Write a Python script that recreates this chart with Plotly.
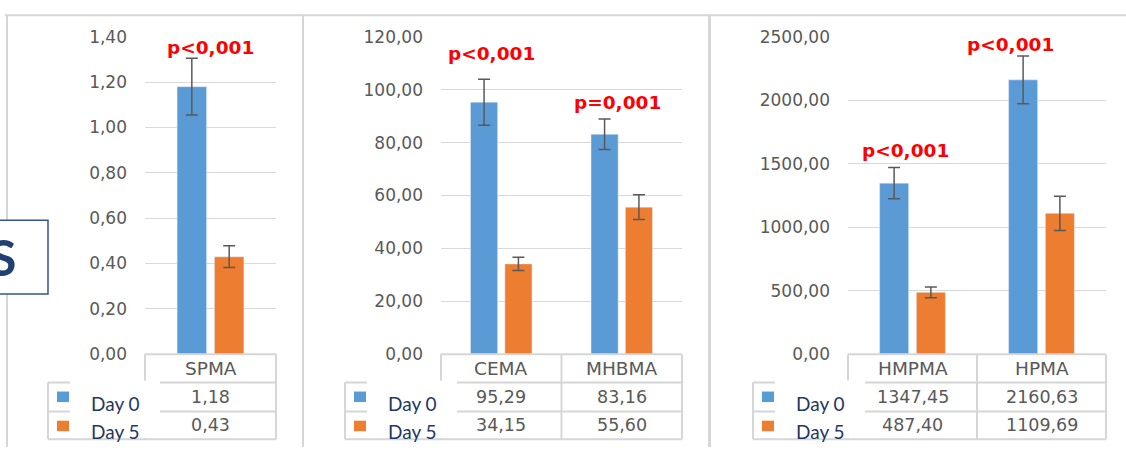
import plotly.graph_objects as go

W, H = 1126, 457

# ---------------- data ----------------
series_names = ["Day 0", "Day 5"]

spma_categories = ["SPMA"]
spma_day0 = [1.18]
spma_day5 = [0.43]
spma_day0_err = [0.125]
spma_day5_err = [0.048]
spma_pvalues = ["p<0,001"]
spma_tickvals = [0.0, 0.2, 0.4, 0.6, 0.8, 1.0, 1.2, 1.4]
spma_ticktext = ["0,00", "0,20", "0,40", "0,60", "0,80", "1,00", "1,20", "1,40"]

mid_categories = ["CEMA", "MHBMA"]
mid_day0 = [95.29, 83.16]
mid_day5 = [34.15, 55.60]
mid_day0_err = [8.7, 5.8]
mid_day5_err = [2.5, 4.7]
mid_pvalues = ["p<0,001", "p=0,001"]
mid_tickvals = [0, 20, 40, 60, 80, 100, 120]
mid_ticktext = ["0,00", "20,00", "40,00", "60,00", "80,00", "100,00", "120,00"]

hp_categories = ["HMPMA", "HPMA"]
hp_day0 = [1347.45, 2160.63]
hp_day5 = [487.40, 1109.69]
hp_day0_err = [123, 188]
hp_day5_err = [42, 135]
hp_pvalues = ["p<0,001", "p<0,001"]
hp_tickvals = [0, 500, 1000, 1500, 2000, 2500]
hp_ticktext = ["0,00", "500,00", "1000,00", "1500,00", "2000,00", "2500,00"]

side_label = "S"

# ---------------- styles ----------------
BLUE = "#5B9BD5"
ORANGE = "#ED7D31"
GRID = "#D9D9D9"
BORDER = "#D6D6D6"
TXT = "#595959"
NAVY = "#1F3864"
RED = "#FF0000"
ERR = "#595959"


def px(x):
    return x / W


def py(y):
    return 1 - y / H


Y_TOP, Y_ZERO = 28, 360
ROW1, ROW2, ROW3, ROW_END = 360, 389.5, 420, 449

panels = [
    dict(cats=spma_categories, d0=spma_day0, d5=spma_day5, e0=spma_day0_err, e5=spma_day5_err,
         pv=spma_pvalues, tv=spma_tickvals, tt=spma_ticktext,
         legend_left=48, left=145, right=276,
         p_xshift=[0], p_yshift=[11]),
    dict(cats=mid_categories, d0=mid_day0, d5=mid_day5, e0=mid_day0_err, e5=mid_day5_err,
         pv=mid_pvalues, tv=mid_tickvals, tt=mid_ticktext,
         legend_left=345, left=441, right=682,
         p_xshift=[-10, -4], p_yshift=[26, 16]),
    dict(cats=hp_categories, d0=hp_day0, d5=hp_day5, e0=hp_day0_err, e5=hp_day5_err,
         pv=hp_pvalues, tv=hp_tickvals, tt=hp_ticktext,
         legend_left=753, left=848, right=1106,
         p_xshift=[-7, -31], p_yshift=[17, 11]),
]

fig = go.Figure()
shapes = []
annotations = []

# outer frame lines
shapes.append(dict(type="line", xref="paper", yref="paper", x0=px(5), x1=px(1126), y0=py(5.5), y1=py(5.5),
                   line=dict(color=BORDER, width=2)))
for sx, sw in [(7, 2), (303, 2), (709.5, 3)]:
    shapes.append(dict(type="line", xref="paper", yref="paper", x0=px(sx), x1=px(sx), y0=py(5), y1=py(457),
                       line=dict(color=BORDER, width=sw)))

for i, p in enumerate(panels):
    k = "" if i == 0 else str(i + 1)
    xa, ya = "x" + k, "y" + k
    n = len(p["cats"])
    fig.add_trace(go.Bar(x=p["cats"], y=p["d0"], name=series_names[0], marker_color=BLUE,
                         error_y=dict(type="data", array=p["e0"], color=ERR, thickness=1.5, width=6),
                         xaxis=xa, yaxis=ya, showlegend=False))
    fig.add_trace(go.Bar(x=p["cats"], y=p["d5"], name=series_names[1], marker_color=ORANGE,
                         error_y=dict(type="data", array=p["e5"], color=ERR, thickness=1.5, width=6),
                         xaxis=xa, yaxis=ya, showlegend=False))
    fig.update_layout({
        "xaxis" + k: dict(domain=[px(p["left"]), px(p["right"])], type="category",
                          categoryorder="array", categoryarray=p["cats"], range=[-0.5, n - 0.5],
                          showticklabels=False, showgrid=False, zeroline=False, showline=False,
                          anchor=ya, fixedrange=True),
        "yaxis" + k: dict(domain=[py(Y_ZERO), py(Y_TOP)], range=[0, p["tv"][-1]],
                          tickvals=p["tv"], ticktext=p["tt"], showgrid=True, gridcolor=GRID,
                          gridwidth=1.3, zeroline=False, showline=False, ticks="",
                          ticklabelstandoff=17,
                          tickfont=dict(family="DejaVu Sans", size=17, color=TXT),
                          anchor=xa, fixedrange=True),
    })

    L, lft, rgt = p["legend_left"], p["left"], p["right"]
    line = dict(color=BORDER, width=2)
    # category row cell
    shapes.append(dict(type="line", xref="paper", yref="paper", x0=px(lft), x1=px(rgt), y0=py(ROW1), y1=py(ROW1), line=line))
    shapes.append(dict(type="line", xref="paper", yref="paper", x0=px(lft), x1=px(lft), y0=py(ROW1), y1=py(ROW_END), line=line))
    # rows
    for yy in (ROW2, ROW3, ROW_END):
        shapes.append(dict(type="line", xref="paper", yref="paper", x0=px(L), x1=px(rgt), y0=py(yy), y1=py(yy), line=line))
    shapes.append(dict(type="line", xref="paper", yref="paper", x0=px(L), x1=px(L), y0=py(ROW2), y1=py(ROW_END), line=line))
    shapes.append(dict(type="line", xref="paper", yref="paper", x0=px(rgt), x1=px(rgt), y0=py(ROW1), y1=py(ROW_END), line=line))
    for j in range(1, n):
        shapes.append(dict(type="line", xref=xa, yref="paper", x0=j - 0.5, x1=j - 0.5, y0=py(ROW1), y1=py(ROW_END), line=line))
    # white box behind legend labels
    shapes.append(dict(type="rect", xref="paper", yref="paper", x0=px(L + 22), x1=px(L + 112),
                       y0=py(387.5), y1=py(447.5), fillcolor="white", line=dict(width=0)))
    # legend keys
    for yk, col in ((399, BLUE), (429.5, ORANGE)):
        shapes.append(dict(type="rect", xref="paper", yref="paper", x0=px(L + 9), x1=px(L + 21),
                           y0=py(yk), y1=py(yk + 11), fillcolor=col, line=dict(width=0)))
    for yk, name in ((412, series_names[0]), (441, series_names[1])):
        annotations.append(dict(xref="paper", yref="paper", x=px(L + 41), y=py(yk), text=name,
                                showarrow=False, xanchor="left", yanchor="middle",
                                font=dict(family="Lato", size=19, color=NAVY)))
    # table text
    for j, c in enumerate(p["cats"]):
        annotations.append(dict(xref=xa, yref="paper", x=j, y=py(375), text=c, showarrow=False,
                                xanchor="center", yanchor="middle",
                                font=dict(family="DejaVu Sans", size=18.5, color=TXT)))
        for vals, yc in ((p["d0"], 404.5), (p["d5"], 434)):
            annotations.append(dict(xref=xa, yref="paper", x=j, y=py(yc),
                                    text=f"{vals[j]:.2f}".replace(".", ","), showarrow=False,
                                    xanchor="center", yanchor="middle",
                                    font=dict(family="DejaVu Sans", size=17.5, color=TXT)))
        # p-value label
        annotations.append(dict(xref=xa, yref=ya, x=j, y=p["d0"][j] + p["e0"][j], text=p["pv"][j],
                                showarrow=False, xanchor="center", yanchor="middle",
                                xshift=p["p_xshift"][j], yshift=p["p_yshift"][j],
                                font=dict(family="DejaVu Sans", size=18.5, color=RED, weight="bold")))

# partial side box with "S"
shapes.append(dict(type="rect", xref="paper", yref="paper", x0=px(-10), x1=px(48), y0=py(297), y1=py(220),
                   fillcolor="white", line=dict(color="#2F5597", width=1.5)))
annotations.append(dict(xref="paper", yref="paper", x=px(18), y=py(258), text=side_label, showarrow=False,
                        xanchor="right", yanchor="middle",
                        font=dict(family="Lato", size=50, color="#203F73", weight="bold")))

fig.update_layout(
    width=W, height=H, margin=dict(l=0, r=0, t=0, b=0),
    paper_bgcolor="white", plot_bgcolor="white",
    barmode="group", bargap=0.43, bargroupgap=0.21,
    shapes=shapes, annotations=annotations, showlegend=False,
)

fig.write_html("out.html", config={"displayModeBar": False},
               post_script="document.body.style.margin='0px';document.body.style.overflow='hidden';")
